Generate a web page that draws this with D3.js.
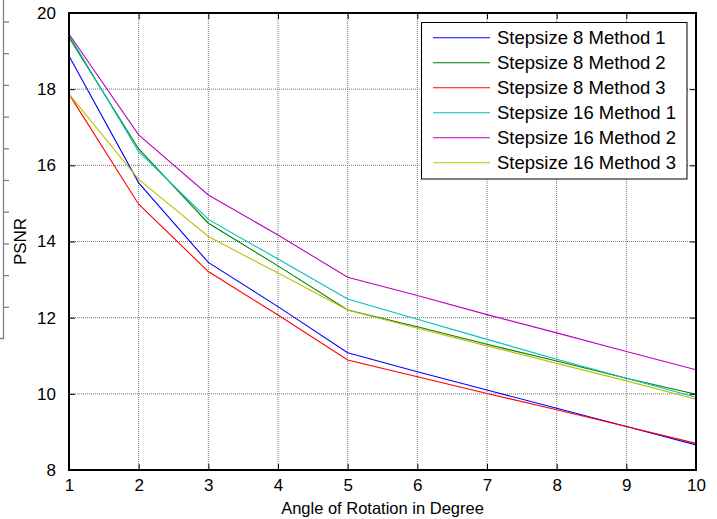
<!DOCTYPE html>
<html><head><meta charset="utf-8">
<script src="https://cdn.jsdelivr.net/npm/d3@7"></script>
<style>
html,body{margin:0;padding:0;background:#fff;}
svg{display:block;font-family:"Liberation Sans",Arial,sans-serif;}
</style></head>
<body><svg id="c" width="717" height="519"></svg>
<script>
const angles = [1,2,3,4,5,6,7,8,9,10];
const seriesNames = ["Stepsize 8 Method 1","Stepsize 8 Method 2","Stepsize 8 Method 3","Stepsize 16 Method 1","Stepsize 16 Method 2","Stepsize 16 Method 3"];
const s8m1  = [18.87,15.54,13.45,12.29,11.08,10.58,10.10,9.62,9.14,8.66];
const s8m2  = [19.36,16.43,14.48,13.36,12.20,11.76,11.30,10.86,10.41,9.99];
const s8m3  = [17.87,14.98,13.21,12.07,10.89,10.45,10.01,9.58,9.14,8.70];
const s16m1 = [19.42,16.36,14.58,13.54,12.49,11.96,11.43,10.91,10.41,9.91];
const s16m2 = [19.45,16.80,15.22,14.17,13.06,12.58,12.08,11.60,11.11,10.63];
const s16m3 = [17.87,15.63,14.13,13.17,12.20,11.72,11.26,10.80,10.34,9.86];
const seriesColors = ["#0000ff","#008000","#ff0000","#00bfbf","#bf00bf","#bfbf00"];
const xTicks = [1,2,3,4,5,6,7,8,9,10];
const yTicks = [8,10,12,14,16,18,20];
const xLabel = "Angle of Rotation in Degree";
const yLabel = "PSNR";

const allSeries = [s8m1,s8m2,s8m3,s16m1,s16m2,s16m3];
const svg = d3.select("#c");
const L=69, R=696, T=13, B=470;
const x = d3.scaleLinear().domain([1,10]).range([L,R]);
const y = d3.scaleLinear().domain([8,20]).range([B,T]);

// stray cropped frame fragment at left edge
const frag = svg.append("g").attr("stroke","#808080").attr("stroke-width",1.3).attr("fill","none");
frag.append("path").attr("d","M3.5,0V338.5H0");
d3.range(10).forEach(i=>{
  const yy = 22 + i*31.7;
  frag.append("line").attr("x1",3.5).attr("x2",9).attr("y1",yy).attr("y2",yy);
});

// grid
const grid = svg.append("g").attr("stroke","#777").attr("stroke-width",1).attr("stroke-dasharray","1,1");
xTicks.slice(1,-1).forEach(v=>grid.append("line").attr("x1",x(v)).attr("x2",x(v)).attr("y1",T).attr("y2",B));
yTicks.slice(1,-1).forEach(v=>grid.append("line").attr("y1",y(v)).attr("y2",y(v)).attr("x1",L).attr("x2",R));

// lines
const line = d3.line().x((d,i)=>x(angles[i])).y(d=>y(d));
allSeries.forEach((s,k)=>{
  svg.append("path").attr("d",line(s)).attr("fill","none").attr("stroke",seriesColors[k]).attr("stroke-width",1.1);
});

// axes with inward ticks
const tl = 6;
const axB = svg.append("g").attr("transform",`translate(0,${B})`).call(d3.axisBottom(x).tickValues(xTicks).tickSizeInner(-tl).tickSizeOuter(0).tickPadding(12).tickFormat(d3.format("d")));
const axT = svg.append("g").attr("transform",`translate(0,${T})`).call(d3.axisTop(x).tickValues(xTicks).tickSizeInner(-tl).tickSizeOuter(0).tickFormat(""));
const axL = svg.append("g").attr("transform",`translate(${L},0)`).call(d3.axisLeft(y).tickValues(yTicks).tickSizeInner(-tl).tickSizeOuter(0).tickPadding(13).tickFormat(d3.format("d")));
const axR = svg.append("g").attr("transform",`translate(${R},0)`).call(d3.axisRight(y).tickValues(yTicks).tickSizeInner(-tl).tickSizeOuter(0).tickFormat(""));
[axB,axT,axL,axR].forEach(a=>{
  a.select(".domain").remove();
  a.selectAll(".tick line").attr("stroke","#000").attr("stroke-width",1);
  a.selectAll("text").attr("fill","#000").style("font-size","17px").style("font-family","Liberation Sans, Arial, sans-serif");
});
axB.selectAll("text").attr("dy","0.71em").attr("y",9);
// box
svg.append("rect").attr("x",L).attr("y",T).attr("width",R-L).attr("height",B-T).attr("fill","none").attr("stroke","#000").attr("stroke-width",2);

// axis labels
svg.append("text").attr("x",(L+R)/2).attr("y",514).attr("text-anchor","middle").style("font-size","16.5px").text(xLabel);
svg.append("text").attr("transform",`translate(26,${(T+B)/2}) rotate(-90)`).attr("text-anchor","middle").style("font-size","17px").text(yLabel);

// legend
const lg = svg.append("g");
lg.append("rect").attr("x",421.5).attr("y",22.5).attr("width",265.5).attr("height",156.5).attr("fill","#fff").attr("stroke","#000").attr("stroke-width",1);
seriesNames.forEach((n,k)=>{
  const yy = 37.7 + k*25;
  lg.append("line").attr("x1",433).attr("x2",490).attr("y1",yy).attr("y2",yy).attr("stroke",seriesColors[k]).attr("stroke-width",1.1);
  lg.append("text").attr("x",497).attr("y",yy).attr("dy","0.35em").style("font-size","18.5px").text(n);
});
</script></body></html>
